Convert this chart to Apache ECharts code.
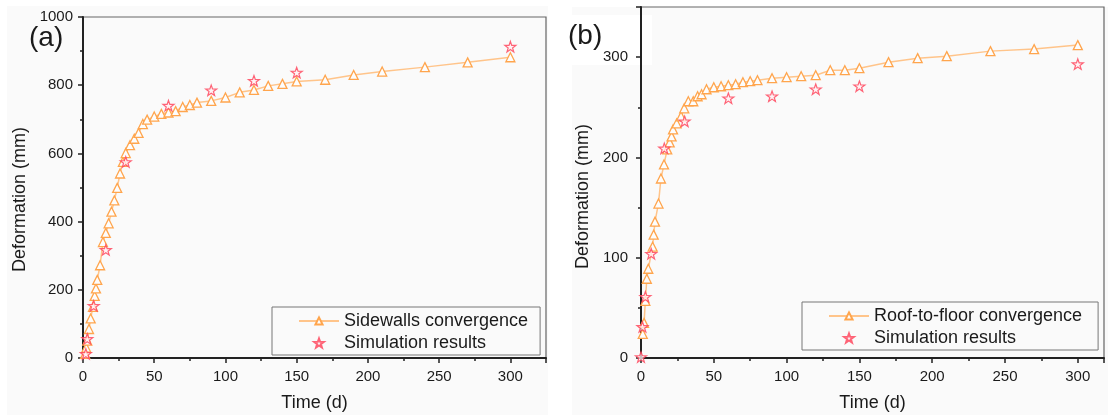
<!DOCTYPE html>
<html>
<head>
<meta charset="utf-8">
<script src="https://cdn.jsdelivr.net/npm/echarts@6/dist/echarts.min.js"></script>
<style>
html,body{margin:0;padding:0;background:#fff;}
#wrap{position:relative;width:1108px;height:417px;overflow:hidden;}
.panel{position:absolute;background:#fafafa;}
#chart{position:absolute;left:0;top:0;width:1108px;height:417px;}
</style>
</head>
<body>
<div id="wrap">
  <div class="panel" style="left:7px;top:6px;width:541px;height:409px;"></div>
  <div class="panel" style="left:572px;top:7px;width:536px;height:408px;"></div>
  <div style="position:absolute;left:572px;top:15px;width:80px;height:50px;background:#fff;"></div>
  <div id="chart"></div>
</div>
<script>
// ---- Data ----
const timeA = [1.5,2.3,3,4.2,5.4,7,8.2,9.1,10,12,14,16,18,20,22,24,26,28,30,33,36,39,42,45,50,55,60,65,70,75,80,90,100,110,120,130,140,150,170,190,210,240,270,300];
const sidewalls = [12,30,51,85,116,150,182,204,229,272,340,367,395,429,462,499,541,575,601,624,643,660,686,699,708,716,720,724,736,742,749,754,764,779,786,798,804,811,816,830,840,853,867,882];
const simTimeA = [2,3,7.5,16,30,60,90,120,150,300];
const simA = [12,56,153,317,575,740,785,813,837,913];

const timeB = [1.2,2.1,3,4,5,8,8.7,9.6,12,13.7,15.8,18,19.7,21,22,24.5,27.5,29.7,32.5,35.9,38.9,41.6,45,50,55,60,65,70,75,80,90,100,110,120,130,140,150,170,190,210,240,270,300];
const roofFloor = [24,35,57,79,89,111,123,136,154,179,193,208,215,221,228,234,241,249,256,256,261,263,268,270,271,272,273,275,276,277,279,280,281,282,287,287,289,295,299,301,306,308,312];
const simTimeB = [0,1,3,7,16,30,60,90,120,150,300];
const simB = [1,31,61,104,209,236,259,261,268,271,293];

const xTicks = [0,50,100,150,200,250,300];
const panelLabels = ['(a)','(b)'];
const seriesNames = ['Sidewalls convergence','Roof-to-floor convergence','Simulation results'];
const axisNames = {x:'Time (d)', y:'Deformation (mm)'};

// ---- helpers ----
const zip = (a,b) => a.map((v,i) => [v,b[i]]);
const FONT = '"Liberation Sans", Arial, sans-serif';
const TXT = '#1a1a1a';
const STAR = 'path://M50,0L61.76,33.82L97.55,34.55L69.02,56.18L79.39,90.45L50,70L20.61,90.45L30.98,56.18L2.45,34.55L38.24,33.82Z';

function xAxisCfg(idx, max){
  return {
    type:'value', gridIndex:idx, min:0, max:max, interval:50,
    name:axisNames.x, nameLocation:'middle', nameGap:36,
    nameTextStyle:{fontSize:18, color:TXT, fontFamily:FONT},
    axisLine:{show:true, onZero:false, lineStyle:{color:'#222', width:2}},
    axisTick:{show:true, inside:false, length:5, lineStyle:{color:'#222', width:1.5}},
    minorTick:{show:true, splitNumber:2, length:3, lineStyle:{color:'#222', width:1.5}},
    splitLine:{show:false},
    axisLabel:{fontSize:15, color:TXT, fontFamily:FONT, margin:11,
      formatter: v => (xTicks.indexOf(v) >= 0 ? String(v) : '')}
  };
}
function yAxisCfg(idx, max, interval, gap, labelMargin, shift){
  return {
    type:'value', gridIndex:idx, min:0, max:max, interval:interval,
    name:axisNames.y, nameLocation:'middle', nameGap:gap,
    nameTextStyle:{fontSize:18, color:TXT, fontFamily:FONT, padding:[0, shift, 0, 0]},
    axisLine:{show:true, onZero:false, lineStyle:{color:'#222', width:2}},
    axisTick:{show:true, inside:false, length:5, lineStyle:{color:'#222', width:1.5}},
    minorTick:{show:true, splitNumber:2, length:3, lineStyle:{color:'#222', width:1.5}},
    splitLine:{show:false},
    axisLabel:{fontSize:15, color:TXT, fontFamily:FONT, margin:labelMargin,
      formatter: v => (v % interval === 0 ? String(v) : '')}
  };
}
function lineSeries(name, x, y, idx){
  return {
    name:name, type:'line', xAxisIndex:idx, yAxisIndex:idx,
    data: zip(x,y), symbol:'triangle', symbolSize:9, showAllSymbol:true,
    lineStyle:{color:'#ffc48a', width:1.5},
    itemStyle:{color:'#fdfdfd', borderColor:'#ffa54d', borderWidth:1.3},
    z:2, animation:false
  };
}
function simSeries(x, y, idx){
  return {
    name:seriesNames[2], type:'scatter', xAxisIndex:idx, yAxisIndex:idx,
    data: zip(x,y), symbol:STAR, symbolSize:11, symbolKeepAspect:true,
    itemStyle:{color:'rgba(255,240,243,0.95)', borderColor:'#ff3d55', borderWidth:1.2},
    z:3, animation:false
  };
}
function legendCfg(idx, names, left, top, padRight){
  return {
    show:true, orient:'vertical', left:left, top:top,
    data: names, itemWidth:40, itemHeight:9, itemGap:2,
    padding:[4, padRight, 2, 26],
    borderColor:'#777', borderWidth:1, backgroundColor:'transparent',
    textStyle:{fontSize:18, color:TXT, fontFamily:FONT, lineHeight:20},
    selectedMode:false
  };
}

const chart = echarts.init(document.getElementById('chart'), null, {renderer:'canvas'});
chart.setOption({
  backgroundColor:'transparent',
  animation:false,
  grid:[
    {left:83, top:17, width:463, height:342, show:true, borderColor:'#666', borderWidth:1.2, backgroundColor:'transparent'},
    {left:641, top:7, width:463, height:351, show:true, borderColor:'#666', borderWidth:1.2, backgroundColor:'transparent'}
  ],
  xAxis:[ xAxisCfg(0, 325), xAxisCfg(1, 318) ],
  yAxis:[ yAxisCfg(0, 1000, 200, 54, 10, 24), yAxisCfg(1, 350, 100, 49, 13, 28) ],
  legend:[
    legendCfg(0, [seriesNames[0], seriesNames[2]], 272, 307, 12),
    legendCfg(1, [seriesNames[1], seriesNames[2]], 802, 302, 16)
  ],
  graphic:[
    {type:'text', left:29, top:24, style:{text:panelLabels[0], font:'28px '+FONT, fill:TXT}},
    {type:'text', left:568, top:22, style:{text:panelLabels[1], font:'28px '+FONT, fill:TXT}}
  ],
  series:[
    lineSeries(seriesNames[0], timeA, sidewalls, 0),
    simSeries(simTimeA, simA, 0),
    lineSeries(seriesNames[1], timeB, roofFloor, 1),
    simSeries(simTimeB, simB, 1)
  ]
});
</script>
</body>
</html>
